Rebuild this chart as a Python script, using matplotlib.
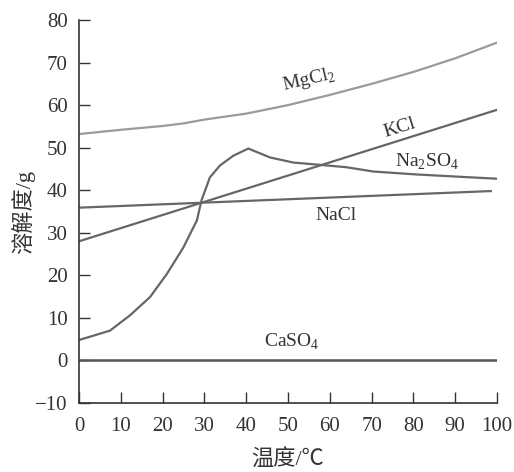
import matplotlib
matplotlib.use("Agg")
import matplotlib.pyplot as plt

plt.rcParams['font.family'] = ['Liberation Serif', 'Noto Sans CJK SC', 'DejaVu Sans']
plt.rcParams['mathtext.fontset'] = 'custom'
plt.rcParams['mathtext.rm'] = 'Liberation Serif'

# solubility data (g per 100 g water)
t_mgcl2 = [0, 10, 20, 25, 30, 40, 50, 60, 70, 75, 80, 90, 100]
s_mgcl2 = [53.2, 54.2, 55.1, 55.7, 56.6, 58.0, 60.0, 62.4, 65.0, 66.4, 67.8, 71.0, 74.7]

t_kcl = [0, 100]
s_kcl = [28.0, 58.9]

t_nacl = [0, 98.5]
s_nacl = [35.9, 39.8]

t_na2so4 = [0, 7.4, 12.2, 17, 21, 25, 25.8, 28.2, 29.3, 31.3, 33.7, 36.9, 40.5,
            45.7, 51.3, 58.4, 64, 70.4, 80.8, 100]
s_na2so4 = [4.8, 7.0, 10.6, 14.9, 20.3, 26.6, 28.2, 32.9, 37.6, 43.0, 45.8, 48.1, 49.8,
            47.7, 46.5, 45.9, 45.4, 44.4, 43.7, 42.7]

t_caso4 = [0, 100]
s_caso4 = [0.2, 0.2]

xticks = list(range(0, 101, 10))
yticks = list(range(-10, 81, 10))

dark = '#666666'
light = '#9a9a9a'

fig = plt.figure(figsize=(5.14, 4.72), dpi=100)
ax = fig.add_axes([0.1537, 0.1462, 0.8133, 0.8114])

ax.plot(t_mgcl2, s_mgcl2, color=light, lw=1.6)
ax.plot(t_kcl, s_kcl, color=dark, lw=1.6)
ax.plot(t_nacl, s_nacl, color=dark, lw=1.6)
ax.plot(t_na2so4, s_na2so4, color=dark, lw=1.6)
ax.plot(t_caso4, s_caso4, color='#555555', lw=1.8)

fs = 14
ax.text(55, 65.9, r'MgCl$_2$', fontsize=fs, color='#333333', rotation=13, ha='center', va='center')
ax.text(76.8, 54.7, 'KCl', fontsize=fs, color='#333333', rotation=17, ha='center', va='center')
ax.text(83.2, 46.7, r'Na$_2$SO$_4$', fontsize=fs, color='#333333', ha='center', va='center')
ax.text(61.5, 34.0, 'NaCl', fontsize=fs, color='#333333', ha='center', va='center')
ax.text(51, 4.4, r'CaSO$_4$', fontsize=fs, color='#333333', ha='center', va='center')

ax.set_xlim(0, 100)
ax.set_ylim(-10, 80)
ax.set_xticks(xticks)
ax.set_yticks(yticks)
ax.set_yticklabels(['\u221210' if v < 0 else str(v) for v in yticks])
ax.tick_params(direction='in', length=8, width=1, colors='#333333', labelsize=15,
               labelcolor='#333333')
ax.tick_params(axis='y', pad=8)
ax.tick_params(axis='x', pad=10)
for s in ['top', 'right']:
    ax.spines[s].set_visible(False)
for s in ['left', 'bottom']:
    ax.spines[s].set_color('#333333')
    ax.spines[s].set_linewidth(1.2)

ax.set_xlabel('温度/℃', fontsize=16, color='#333333', labelpad=10)
ax.set_ylabel('溶解度/g', fontsize=16, color='#333333', labelpad=0)

fig.savefig('out.png', dpi=100)
